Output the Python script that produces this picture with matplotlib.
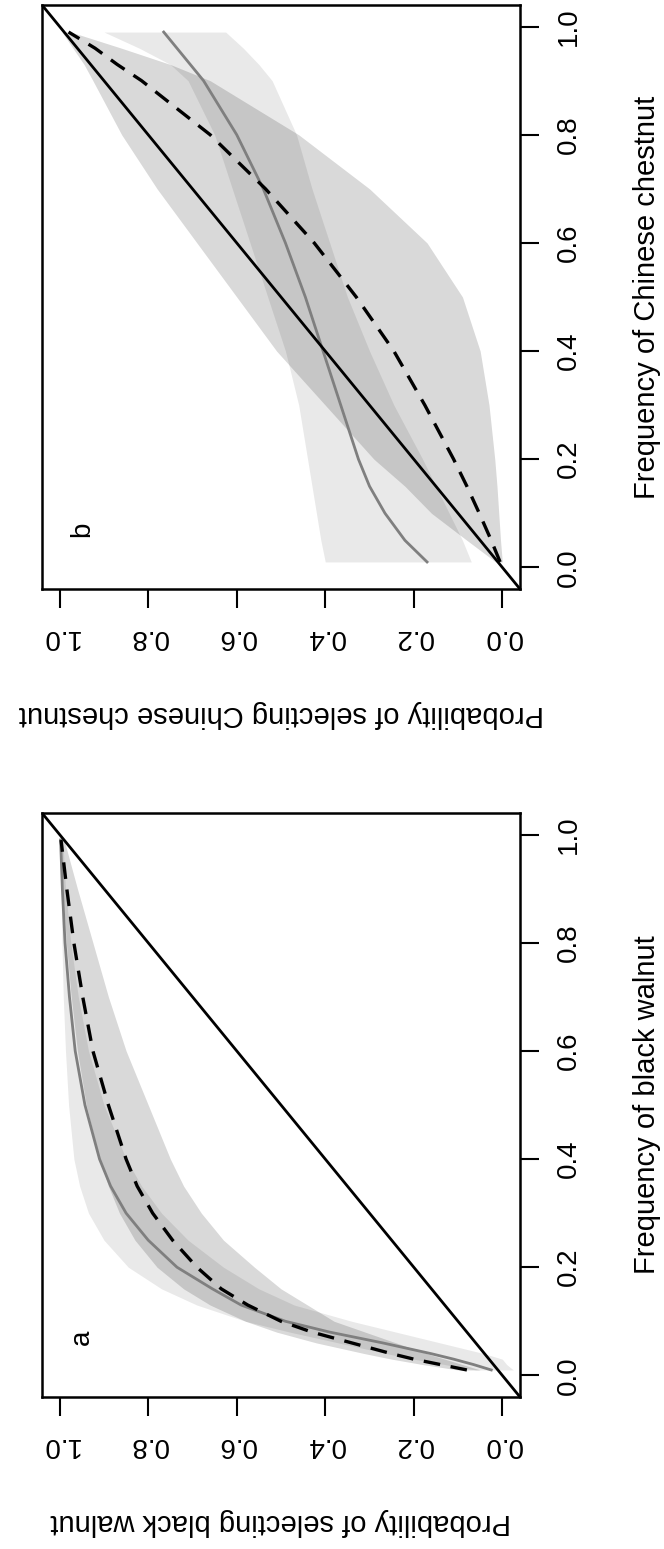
import matplotlib
matplotlib.use("Agg")
import matplotlib.pyplot as plt

plt.rcParams['font.family'] = ['Liberation Sans', 'DejaVu Sans']

# panel a : black walnut
freq_a = [0.01, 0.02, 0.03, 0.04, 0.06, 0.08, 0.10, 0.13, 0.16, 0.20,
          0.25, 0.30, 0.35, 0.40, 0.50, 0.60, 0.70, 0.80, 0.90, 0.99]
dash_a = [0.08, 0.14, 0.20, 0.25, 0.34, 0.43, 0.50, 0.575, 0.635, 0.69,
          0.745, 0.79, 0.825, 0.85, 0.89, 0.925, 0.948, 0.968, 0.984, 0.997]
grey_a = [0.025, 0.065, 0.11, 0.16, 0.27, 0.39, 0.49, 0.59, 0.655, 0.735,
          0.80, 0.85, 0.885, 0.91, 0.943, 0.965, 0.978, 0.988, 0.994, 0.998]
light_lo_a = [-0.025, -0.01, 0.0, 0.04, 0.14, 0.24, 0.34, 0.47, 0.55, 0.63,
              0.71, 0.77, 0.815, 0.85, 0.90, 0.935, 0.958, 0.975, 0.987, 0.993]
light_hi_a = [0.06, 0.13, 0.20, 0.26, 0.37, 0.48, 0.58, 0.69, 0.77, 0.845,
              0.90, 0.935, 0.955, 0.968, 0.98, 0.987, 0.992, 0.995, 0.997, 0.999]
mid_lo_a = [0.05, 0.09, 0.13, 0.17, 0.24, 0.31, 0.38, 0.44, 0.50, 0.56,
            0.63, 0.68, 0.72, 0.75, 0.80, 0.85, 0.89, 0.925, 0.96, 0.99]
mid_hi_a = [0.10, 0.18, 0.25, 0.31, 0.42, 0.51, 0.58, 0.66, 0.72, 0.78,
            0.83, 0.865, 0.89, 0.91, 0.94, 0.96, 0.974, 0.985, 0.993, 0.999]

# panel b : Chinese chestnut
freq_b = [0.01, 0.05, 0.10, 0.15, 0.20, 0.30, 0.40, 0.50, 0.60, 0.70,
          0.80, 0.90, 0.93, 0.96, 0.99]
dash_b = [0.005, 0.025, 0.052, 0.08, 0.11, 0.175, 0.245, 0.33, 0.425, 0.535,
          0.66, 0.815, 0.87, 0.92, 0.98]
grey_b = [0.17, 0.22, 0.265, 0.30, 0.325, 0.365, 0.405, 0.445, 0.49, 0.54,
          0.60, 0.675, 0.705, 0.735, 0.765]
light_lo_b = [0.07, 0.09, 0.12, 0.15, 0.18, 0.245, 0.30, 0.35, 0.39, 0.43,
              0.465, 0.52, 0.55, 0.585, 0.625]
light_hi_b = [0.40, 0.41, 0.42, 0.43, 0.44, 0.46, 0.49, 0.53, 0.57, 0.61,
              0.65, 0.71, 0.75, 0.82, 0.90]
mid_lo_b = [0.0, 0.004, 0.008, 0.012, 0.017, 0.03, 0.05, 0.09, 0.17, 0.30,
            0.46, 0.66, 0.75, 0.86, 0.975]
mid_hi_b = [0.015, 0.08, 0.16, 0.22, 0.29, 0.40, 0.51, 0.60, 0.69, 0.78,
            0.86, 0.925, 0.945, 0.97, 0.995]

ticks = [0.0, 0.2, 0.4, 0.6, 0.8, 1.0]
tick_labels = ["0.0", "0.2", "0.4", "0.6", "0.8", "1.0"]

W, H = 664, 1549
fig = plt.figure(figsize=(W / 100, H / 100), dpi=100)

fs = 20
fs_lab = 21


def panel(top, bottom, freq, dash, grey, llo, lhi, mlo, mhi, letter, xlab, ylab):
    ax = fig.add_axes([42 / W, 1 - bottom / H, (520 - 42) / W, (bottom - top) / H])
    # figure is turned: probability runs right->left, frequency bottom->top
    ax.fill_betweenx(freq, llo, lhi, color='black', alpha=0.086, lw=0)
    ax.fill_betweenx(freq, mlo, mhi, color='black', alpha=0.149, lw=0)
    ax.plot(grey, freq, color='#7f7f7f', lw=2)
    ax.plot(dash, freq, color='black', lw=2.4, dashes=(5, 3.2))
    ax.axline((0, 0), (1, 1), color='black', lw=2)
    ax.set_xlim(1.04, -0.04)
    ax.set_ylim(-0.04, 1.04)
    ax.set_xticks(ticks)
    ax.set_xticklabels(tick_labels, rotation=180, fontsize=fs)
    ax.set_yticks(ticks)
    ax.set_yticklabels(tick_labels, rotation=90, fontsize=fs, va='center')
    ax.yaxis.tick_right()
    ax.tick_params(axis='x', length=13.5, width=1.5, pad=12)
    ax.tick_params(axis='y', length=13.5, width=1.5, pad=12)
    for s in ax.spines.values():
        s.set_linewidth(1.8)
    ax.text(0.95, 0.07, letter, rotation=90, fontsize=fs, ha='center', va='center')
    cy = (top + bottom) / 2
    fig.text(647 / W, 1 - cy / H, xlab, rotation=90, fontsize=fs_lab,
             ha='center', va='center')
    fig.text(281 / W, 1 - (bottom + 125) / H, ylab, rotation=180, fontsize=fs_lab,
             ha='center', va='center')
    return ax


panel(5, 589, freq_b, dash_b, grey_b, light_lo_b, light_hi_b, mid_lo_b, mid_hi_b,
      'b', 'Frequency of Chinese chestnut', 'Probability of selecting Chinese chestnut')
panel(813, 1397, freq_a, dash_a, grey_a, light_lo_a, light_hi_a, mid_lo_a, mid_hi_a,
      'a', 'Frequency of black walnut', 'Probability of selecting black walnut')

fig.savefig('out.png', dpi=100)
